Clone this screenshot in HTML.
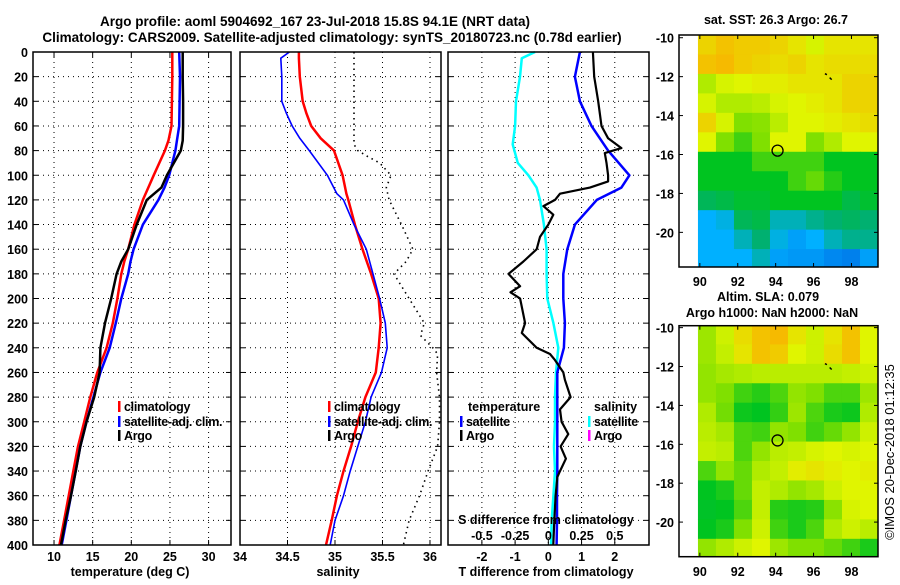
<!DOCTYPE html>
<html><head><meta charset="utf-8"><style>
html,body{margin:0;padding:0;background:#fff;}
svg text{font-family:"Liberation Sans",Arial,sans-serif;font-weight:bold;}
svg text.normal{font-weight:normal;}
</style></head><body>
<svg id="fig" width="900" height="580" viewBox="0 0 900 580" xmlns="http://www.w3.org/2000/svg">
<rect width="900" height="580" fill="#fff"/>
<text x="315" y="26" font-size="13.5" text-anchor="middle">Argo profile: aoml 5904692_167 23-Jul-2018 15.8S 94.1E (NRT data)</text>
<text x="332" y="42" font-size="13.5" text-anchor="middle">Climatology: CARS2009. Satellite-adjusted climatology: synTS_20180723.nc (0.78d earlier)</text>
<g id="plots"></g>
</svg>
<script>
// ---- profile data (depth in m) ----
const tDepths = [0,20,40,60,72,80,100,110,120,140,160,170,180,200,220,240,260,280,300,320,340,360,380,400];
const tClim   = [25.3,25.3,25.25,25.2,24.8,24.35,22.9,22.2,21.5,20.4,19.6,19.1,18.7,18.2,17.6,16.8,15.6,14.7,13.9,13.1,12.5,11.9,11.3,10.7];
const tSat    = [26.2,26.3,26.25,26.2,25.9,25.7,24.9,24.3,23.5,21.5,20.3,19.9,19.6,18.7,18.0,17.2,16.0,15.1,14.2,13.4,12.8,12.2,11.6,11.0];
const tArgo   = [26.65,26.65,26.7,26.7,26.65,26.4,24.6,23.9,22.0,20.7,19.6,18.7,18.1,17.4,16.6,16.0,15.9,15.2,14.2,13.4,12.8,12.2,11.5,10.9];

const sDepths = [0,5,20,40,50,60,70,80,100,115,120,140,160,180,200,220,240,260,280,300,320,340,360,380,400];
const sClim   = [34.62,34.62,34.63,34.66,34.7,34.75,34.85,34.99,35.08,35.12,35.14,35.21,35.29,35.38,35.46,35.48,35.46,35.43,35.32,35.24,35.17,35.09,35.02,34.965,34.905];
const sSat    = [34.52,34.43,34.44,34.44,34.49,34.55,34.63,34.73,34.92,35.02,35.09,35.2,35.33,35.4,35.47,35.53,35.55,35.49,35.38,35.32,35.24,35.16,35.09,35.0,34.95];
const saDepths = [0,20,40,60,75,80,85,90,100,110,120,140,160,170,180,200,220,230,240,245,260,280,300,320,340,360,380,400];
const sArgo    = [35.2,35.2,35.2,35.2,35.2,35.24,35.35,35.47,35.59,35.54,35.57,35.7,35.82,35.75,35.62,35.78,35.94,35.9,36.03,36.08,36.07,36.1,36.1,36.08,35.98,35.89,35.78,35.72];

const dDepths  = [0,20,40,60,70,78,82,90,100,105,110,115,120,125,132,140,150,160,170,180,190,195,200,220,228,240,245,250,260,266,280,290,300,310,320,330,340,345,360,380,400];
const dTArgo   = [1.34,1.38,1.5,1.6,1.8,2.2,1.7,1.75,1.8,1.8,1.25,0.35,0.2,-0.15,0.15,0.0,-0.25,-0.35,-0.75,-1.2,-0.85,-1.14,-0.85,-0.7,-0.8,-0.35,0.05,0.2,0.45,0.5,0.67,0.35,0.4,0.6,0.37,0.53,0.35,0.27,0.22,0.18,0.15];
const dtDepths = [0,20,40,60,80,100,110,120,140,160,180,200,220,240,260,280,300,320,340,360,380,400];
const dTSat    = [0.95,0.8,0.95,1.3,1.8,2.44,2.2,1.46,0.8,0.57,0.45,0.45,0.5,0.47,0.27,0.27,0.27,0.27,0.27,0.26,0.26,0.25];
const dsDepths = [0,5,20,40,60,75,90,100,110,120,140,160,180,200,220,240,260,280,300,320,340,360,380,400];
const dSSat    = [-0.1,-0.2,-0.213,-0.243,-0.25,-0.268,-0.23,-0.15,-0.088,-0.063,-0.033,-0.013,-0.013,-0.008,0.038,0.075,0.058,0.05,0.05,0.043,0.05,0.038,0.025,0.02];

const depthTicks = [0,20,40,60,80,100,120,140,160,180,200,220,240,260,280,300,320,340,360,380,400];
const tTicks = [10,15,20,25,30];
const sTicks = [34,34.5,35,35.5,36];
const sTickLabels = ["34","34.5","35","35.5","36"];
const dTTicks = [-2,-1,0,1,2];
const dSTicks = [-0.5,-0.25,0,0.25,0.5];
const dSTickLabels = ["-0.5","-0.25","0","0.25","0.5"];

// ---- map data (rows: lat -10..-21.8 by 1 deg, cols: lon 89.9..99.4) ----
const sstGrid = [
 [5.4,5.6,5.5,5.5,5.4,5.2,4.9,5.2,5.2,5.2],
 [5.6,5.7,5.5,5.4,5.3,5.4,5.2,5.3,5.3,5.3],
 [4.5,4.9,5,5.1,5.1,5.2,5.2,5.2,5.4,5.4],
 [4.9,4.5,4.5,4.6,4.9,5,5.1,5.2,5.4,5.4],
 [5.4,4.9,4,4.1,4.6,5,5,5.1,5.2,5.3],
 [5,4,3.5,4,5,5,4,4.5,5,5],
 [3,3,3,3.5,3.5,3.5,3.5,3,3,3],
 [3,3,3,3,3,3.5,3.8,3.3,3,3],
 [2.3,2.5,2.8,2.8,3,3,3,3,2.5,2.8],
 [1,1.2,2.3,2.5,1.5,1.5,1.8,2,2.2,2],
 [1,1,1.5,2,1.2,0.8,1,1.5,1.8,1.8],
 [1,1,1,1.5,0.8,0.7,0.7,0.5,0.4,0.8]];
const slaGrid = [
 [4.3,4.8,5.3,5.6,5.7,5.2,4.8,5.2,5.6,5],
 [4.3,4.7,5.2,5.6,5.5,5,4.8,5.3,5.6,5],
 [4.2,4.4,4.5,4.6,4.6,4.6,4.6,4.6,4.7,4.8],
 [4.2,4,3.5,3.3,3.6,4.2,4,3.6,3.6,4.3],
 [4.5,3.9,3.1,3.0,3.4,4.3,3.6,3.2,3.1,4.5],
 [4.6,4.4,3.6,3.5,4.2,4,3.5,3.8,4.2,4.8],
 [4.7,4.6,3.6,4.2,4.6,4.7,4.9,5,4.9,5],
 [3.6,4.2,3.8,4.5,4.7,5.1,5.2,5.1,5,5.1],
 [3,3.2,3.8,4.7,4.5,4.2,4.4,4.8,5,5],
 [2.9,3,3.6,4.7,3.3,3.2,3.3,4.1,4.9,5],
 [3,3.2,4,4.8,3.5,3.2,3.6,4.5,4.8,4.6],
 [4.2,4.5,4.8,5,4.3,4,4,3.8,3.5,3.2]];
const lonTicks = [90,92,94,96,98];
const latTicks = [-10,-12,-14,-16,-18,-20];
const argoLon = 94.1, argoLat = -15.8;

const NS = "http://www.w3.org/2000/svg";
const root = document.getElementById('plots');
function mk(tag, attrs, parent){ const e=document.createElementNS(NS,tag); for(const k in attrs) e.setAttribute(k,attrs[k]); (parent||root).appendChild(e); return e; }
function txt(s, x, y, size, anchor, parent){ const t=mk('text',{x:x,y:y,'font-size':size,'text-anchor':anchor||'middle'},parent); t.textContent=s; return t; }

const Y0=52, Y1=545;
const yD = d => Y0 + d*(Y1-Y0)/400;
function xScale(x0,x1,v0,v1){ return v => x0 + (v-v0)*(x1-x0)/(v1-v0); }
const xT = xScale(33,231,7.28,32.9);
const xS = xScale(240,441,34,36.116);
const xDT = xScale(448,649,-3.02,3.03);
const xDS = v => xDT(v*4);
const FS = 12.5;

function grid(x0,x1,xs,g){
  depthTicks.forEach(d=>{ const l=mk('line',{x1:x0,x2:x1,y1:yD(d),y2:yD(d),stroke:'#000','stroke-width':1,'stroke-dasharray':'1 4'},g);   });
  xs.forEach(x=>{ const l=mk('line',{x1:x,x2:x,y1:Y0,y2:Y1,stroke:'#000','stroke-width':1,'stroke-dasharray':'1 4'},g);   });
}
function frame(x0,x1,g){ const r=mk('rect',{x:x0,y:Y0,width:x1-x0,height:Y1-Y0,fill:'none',stroke:'#000','stroke-width':1.5},g);  
  depthTicks.forEach(d=>{ mk('line',{x1:x0,x2:x0+5,y1:yD(d),y2:yD(d),stroke:'#000'},g); mk('line',{x1:x1-5,x2:x1,y1:yD(d),y2:yD(d),stroke:'#000'},g); });
}
function line(ds, vs, xf, color, w, name, g, dash){
  const pts = ds.map((d,i)=> xf(vs[i]).toFixed(1)+','+yD(d).toFixed(1)).join(' ');
  const p = mk('polyline',{points:pts,fill:'none',stroke:color,'stroke-width':w,'stroke-linejoin':'round'},g);
  if(dash) p.setAttribute('stroke-dasharray',dash);
  
  
}
function legendEntry(x,y,color,label,g){ mk('rect',{x:x,y:y-10,width:2.5,height:11,fill:color},g); const t=txt(label,x+6,y,FS,'start',g); t.setAttribute('letter-spacing','-0.3'); }

// Panel 1 temperature
const g1 = mk('g',{});  
grid(33,231,tTicks.map(xT),g1);
line(tDepths,tClim,xT,'#ff0000',2.5,'temp-climatology-line',g1);
line(tDepths,tSat,xT,'#0000ff',2.5,'temp-satellite-line',g1);
line(tDepths,tArgo,xT,'#000',2.5,'temp-argo-line',g1);
frame(33,231,g1);
depthTicks.forEach(d=>{ const t=txt(String(d),28,yD(d)+5,FS,'end',g1);   });
tTicks.forEach(v=>{ mk('line',{x1:xT(v),x2:xT(v),y1:Y1,y2:Y1-5,stroke:'#000'},g1); mk('line',{x1:xT(v),x2:xT(v),y1:Y0,y2:Y0+5,stroke:'#000'},g1); const t=txt(String(v),xT(v),561,FS,'middle',g1);   });
txt('temperature (deg C)',130,576,FS,'middle',g1);
legendEntry(118,411,'#ff0000','climatology',g1);
legendEntry(118,426,'#0000ff','satellite-adj. clim.',g1);
legendEntry(118,440,'#000','Argo',g1);

// Panel 2 salinity
const g2 = mk('g',{});  
grid(240,441,sTicks.slice(1).map(xS),g2);
line(sDepths,sClim,xS,'#ff0000',2.5,'sal-climatology-line',g2);
line(sDepths,sSat,xS,'#0000ff',1.6,'sal-satellite-line',g2);
line(saDepths,sArgo,xS,'#000',1.6,'sal-argo-line',g2,'1.5 4');
frame(240,441,g2);
sTicks.forEach((v,i)=>{ mk('line',{x1:xS(v),x2:xS(v),y1:Y1,y2:Y1-5,stroke:'#000'},g2); const t=txt(sTickLabels[i],xS(v),561,FS,'middle',g2);   });
txt('salinity',338,576,FS,'middle',g2);
legendEntry(328,411,'#ff0000','climatology',g2);
legendEntry(328,426,'#0000ff','satellite-adj. clim.',g2);
legendEntry(328,440,'#000','Argo',g2);

// Panel 3 differences
const g3 = mk('g',{});  
grid(448,649,dTTicks.map(xDT),g3);
line(dsDepths,dSSat,xDS,'#00ffff',2.5,'sdiff-satellite-line',g3);
line(dtDepths,dTSat,xDT,'#0000ff',2.5,'tdiff-satellite-line',g3);
line(dDepths,dTArgo,xDT,'#000',2.2,'tdiff-argo-line',g3);
frame(448,649,g3);
dTTicks.forEach(v=>{ mk('line',{x1:xDT(v),x2:xDT(v),y1:Y1,y2:Y1-5,stroke:'#000'},g3); const t=txt(String(v),xDT(v),561,FS,'middle',g3);   });
dSTicks.forEach((v,i)=>{ const t=txt(dSTickLabels[i],xDS(v),540,FS,'middle',g3);   });
txt('S difference from climatology',546,524,FS,'middle',g3);
txt('T difference from climatology',546,576,FS,'middle',g3);
txt('temperature',468,411,FS,'start',g3);
legendEntry(460,426,'#0000ff','satellite',g3);
legendEntry(460,440,'#000','Argo',g3);
txt('salinity',594,411,FS,'start',g3);
legendEntry(588,426,'#00ffff','satellite',g3);
legendEntry(588,440,'#ff00ff','Argo',g3);

// Maps
const stops = [[0,[0,96,224]],[1,[0,176,255]],[2,[0,176,112]],[3,[0,196,32]],[4,[128,224,0]],[5,[224,245,0]],[6,[255,160,0]]];
function col(v){ v=Math.max(0,Math.min(6,v)); const i=Math.min(5,Math.floor(v)); const f=v-i; const a=stops[i][1], b=stops[i+1][1]; return 'rgb('+a.map((c,k)=>Math.round(c+(b[k]-c)*f)).join(',')+')'; }
function drawMap(gridData, top, bottom, latTop, latBot, name, tickLabelY){
  const g = mk('g',{});  
  const xL = xScale(679,878,88.9,99.4);
  const yL = v => top + (latTop - v)*(bottom-top)/(latTop-latBot);
  const lon0=89.9, dlon=0.95;
  gridData.forEach((row,r)=>{ row.forEach((v,c)=>{
    const la0 = -10 - r + 0.14, la1 = Math.max(latBot, la0-1);
    const x0 = xL(lon0+c*dlon), x1 = xL(lon0+(c+1)*dlon);
    const rc = mk('rect',{x:x0,y:yL(Math.min(latTop,la0)),width:x1-x0+0.5,height:yL(la1)-yL(Math.min(latTop,la0))+0.5,fill:col(v)},g);
    
    
  }); });
  mk('path',{d:'M'+xL(96.6)+' '+yL(-11.85)+' l2 1 M'+xL(96.85)+' '+yL(-12.05)+' l2 2',stroke:'#000','stroke-width':1.5},g);
  const c = mk('circle',{cx:xL(argoLon),cy:yL(argoLat),r:5.5,fill:'none',stroke:'#000','stroke-width':1.3},g);
   
  mk('rect',{x:679,y:top,width:199,height:bottom-top,fill:'none',stroke:'#000','stroke-width':1.5},g);
  lonTicks.forEach(v=>{ mk('line',{x1:xL(v),x2:xL(v),y1:bottom,y2:bottom-4,stroke:'#000'},g); mk('line',{x1:xL(v),x2:xL(v),y1:top,y2:top+4,stroke:'#000'},g); const t=txt(String(v),xL(v),tickLabelY,FS,'middle',g);   });
  latTicks.forEach(v=>{ mk('line',{x1:679,x2:683,y1:yL(v),y2:yL(v),stroke:'#000'},g); mk('line',{x1:874,x2:878,y1:yL(v),y2:yL(v),stroke:'#000'},g); const t=txt(String(v),674,yL(v)+5,FS,'end',g);   });
}
drawMap(sstGrid,35,267,-9.86,-21.78,'sst-map',286);
drawMap(slaGrid,325.7,556.7,-9.9,-21.78,'sla-map',576);
txt('sat. SST: 26.3 Argo: 26.7',776,24,12.5,'middle');
txt('Altim. SLA: 0.079',768,301,12.5,'middle');
txt('Argo h1000: NaN h2000: NaN',772,317,12.5,'middle');
const cr = txt('©IMOS 20-Dec-2018 01:12:35',0,0,13,'middle');
cr.setAttribute('class','normal');
cr.setAttribute('transform','translate(894,452) rotate(-90)');


</script>
</body></html>
